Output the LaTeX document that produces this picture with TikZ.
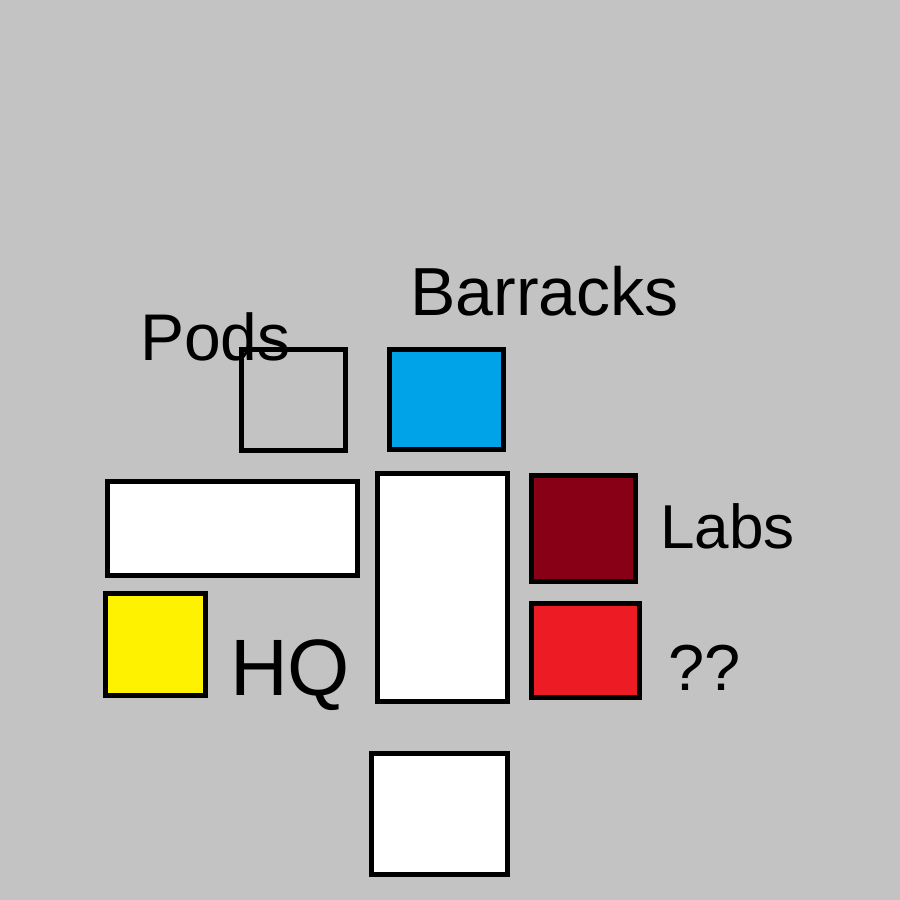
\documentclass[tikz,border=0pt]{standalone}
\usepackage{fontspec}
\setmainfont{Liberation Sans}
\definecolor{bgc}{HTML}{C3C3C3}
\definecolor{pblue}{HTML}{00A2E8}
\definecolor{pdred}{HTML}{880015}
\definecolor{pred}{HTML}{ED1C24}
\definecolor{pyel}{HTML}{FFF200}
\begin{document}
\begin{tikzpicture}[x=1pt,y=-1pt,
  box/.style={draw=black,line width=5pt,rectangle,inner sep=0pt,outer sep=0pt},
  lbl/.style={anchor=base west,inner sep=0pt,text=black}]
\fill[bgc] (0,0) rectangle (900,900);
\useasboundingbox (0,0) rectangle (900,900);
\node[box,minimum width=104pt,minimum height=101pt] (pods) at (293.5,400.3) {};
\node[box,fill=pblue,minimum width=114pt,minimum height=100pt] (barracks) at (446.5,399) {};
\node[box,fill=white,minimum width=250pt,minimum height=94pt] (wide) at (232.5,528.4) {};
\node[box,fill=white,minimum width=130pt,minimum height=228pt] (tall) at (442.5,587.5) {};
\node[box,fill=pdred,minimum width=104pt,minimum height=106pt] (labs) at (583.5,528.5) {};
\node[box,fill=pred,minimum width=108pt,minimum height=94pt] (qq) at (585.5,650.5) {};
\node[box,fill=pyel,minimum width=100pt,minimum height=102pt] (hq) at (155.5,644.5) {};
\node[box,fill=white,minimum width=136pt,minimum height=121.5pt] (bottom) at (439.5,814.2) {};
\node[lbl,font=\fontsize{66}{70}\selectfont] (tpods) at (140,360) {Pods};
\node[lbl,font=\fontsize{68}{72}\selectfont] (tbarracks) at (410,315) {Barracks};
\node[lbl,font=\fontsize{62}{66}\selectfont] (tlabs) at (660,548) {Labs};
\node[lbl,font=\fontsize{65}{70}\selectfont] (tqq) at (668,690) {??};
\node[lbl,font=\fontsize{80}{84}\selectfont] (thq) at (230,695) {HQ};
\end{tikzpicture}
\end{document}
